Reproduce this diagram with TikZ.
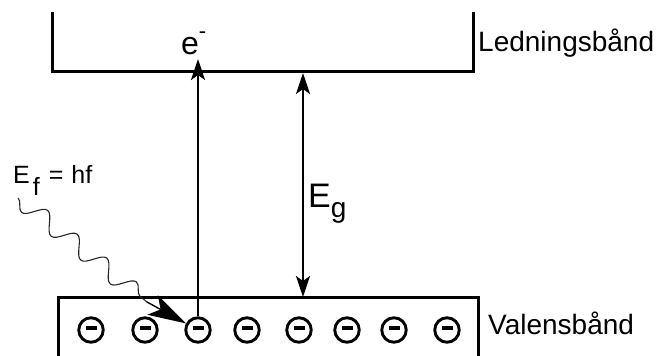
\documentclass[tikz,border=0pt]{standalone}
\usepackage{fontspec}
\setmainfont{Liberation Sans}
\usetikzlibrary{arrows.meta,decorations.pathmorphing}
\begin{document}
\begin{tikzpicture}[x=1pt,y=-1pt,
  band/.style={line width=3pt, line join=miter},
  electron/.style={circle, draw, line width=2.9pt, minimum size=24.5pt, inner sep=0pt},
  lbl/.style={inner sep=0pt, anchor=base west, font=\fontsize{28}{32}\selectfont},
  bigarrow/.style={line width=2.7pt, -{Stealth[length=21pt,width=14pt,inset=5pt]}},
  dblarrow/.style={line width=2.7pt, {Stealth[length=21pt,width=14pt,inset=5pt]}-{Stealth[length=21pt,width=14pt,inset=5pt]}},
  wavy/.style={line width=1.1pt, black!85, decorate, decoration={snake, segment length=38pt, amplitude=-9pt, post length=2pt}},
  photonhead/.style={line width=1.4pt, -{Stealth[length=38pt,width=22pt,inset=9pt]}}
]
\useasboundingbox (0,0) rectangle (657,356);
% bands
\draw[band] (52,12) -- (52,71) -- (473,71) -- (473,12);
\draw[band] (58,358) -- (58,297) -- (478,297) -- (478,358);
% electrons
\foreach \i/\x in {1/91,2/145,3/198,4/247,5/299,6/347,7/394,8/447}{
  \node[electron] (e\i) at (\x,330) {};
  \draw[line width=3.6pt] (e\i.center) ++(-5.5,-2) -- ++(11,0);
}
% labels
\node[lbl] (cond) at (478,52) {Ledningsbånd};
\node[lbl] (val) at (488,334) {Valensbånd};
\node[lbl, font=\fontsize{32}{34}\selectfont] (el) at (181,54) {e\raisebox{16pt}{\fontsize{22}{22}\selectfont -}};
\node[lbl, font=\fontsize{25}{28}\selectfont] (ef) at (13,183) {E\hspace{3pt}\raisebox{-12pt}{f}\hspace{9pt}=\hspace{8pt}hf};
\node[lbl, font=\fontsize{34}{36}\selectfont] (eg) at (308,207) {E\raisebox{-10pt}{\fontsize{28}{30}\selectfont g}};
% arrows
\coordinate (etip) at (198,59);
\draw[bigarrow] (e3) -- (etip);
\coordinate (cb) at (303,73);
\coordinate (vb) at (303,297);
\draw[dblarrow] (cb) -- (vb);
% photon
\coordinate (w0) at (18,198);
\coordinate (w1) at (147,302);
\draw[wavy] (w0) -- (w1);
\draw[photonhead] (w1) -- (e3);
\end{tikzpicture}
\end{document}
